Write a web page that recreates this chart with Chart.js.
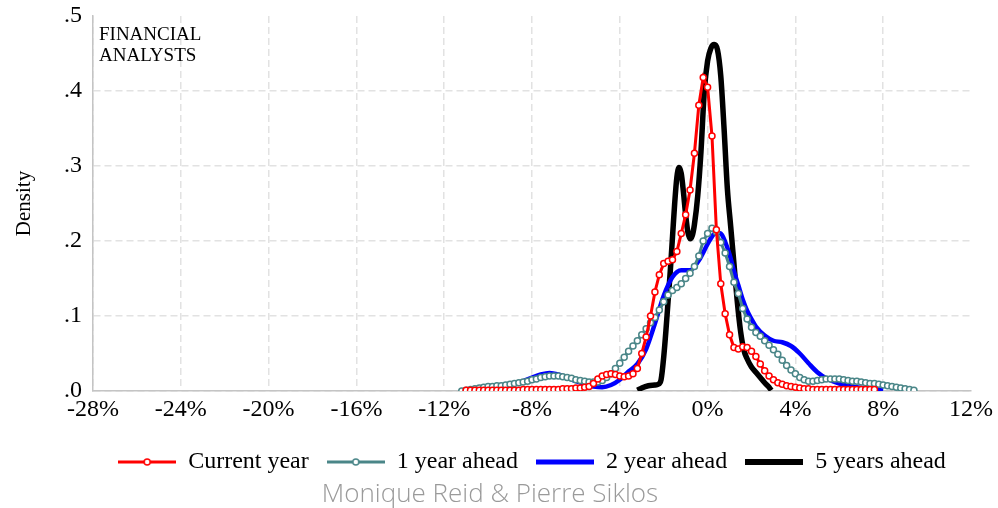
<!DOCTYPE html>
<html>
<head>
<meta charset="utf-8">
<script src="https://cdn.jsdelivr.net/npm/chart.js@4.4.1/dist/chart.umd.min.js"></script>
<style>
  body { margin: 0; background: #fff; }
  #wrap { position: relative; width: 998px; height: 508px; }
  #credit {
    position: absolute; left: 0; width: 980px; top: 474px; line-height: 30px;
    text-align: center; font: 300 26px "Open Sans", sans-serif; color: #9a9a9a;
  }
</style>
</head>
<body>
<div id="wrap">
  <canvas id="densityChart" width="998" height="508"></canvas>
  <div id="credit">Monique Reid &amp; Pierre Siklos</div>
</div>
<script>
// x in percent, y = density
const currentX = [
  -11, -10.8, -10.6, -10.4, -10.2, -10, -9.8, -9.6, -9.4, -9.2,
  -9, -8.8, -8.6, -8.4, -8.2, -8, -7.8, -7.6, -7.4, -7.2,
  -7, -6.8, -6.6, -6.4, -6.2, -6, -5.8, -5.6, -5.4, -5.2,
  -5, -4.8, -4.6, -4.4, -4.2, -4, -3.8, -3.6, -3.4, -3.2,
  -3, -2.8, -2.6, -2.4, -2.2, -2, -1.8, -1.6, -1.4, -1.2,
  -1, -0.8, -0.6, -0.4, -0.2, 0, 0.2, 0.4, 0.6, 0.8,
  1, 1.2, 1.4, 1.6, 1.8, 2, 2.2, 2.4, 2.6, 2.8,
  3, 3.2, 3.4, 3.6, 3.8, 4, 4.2, 4.4, 4.6, 4.8,
  5, 5.2, 5.4, 5.6, 5.8, 6, 6.2, 6.4, 6.6, 6.8,
  7, 7.2, 7.4, 7.6
];
const currentY = [
  .001, .001, .001, .001, .001, .001, .001, .001, .001, .001,
  .001, .001, .001, .002, .002, .002, .002, .002, .002, .002,
  .002, .002, .003, .003, .003, .004, .004, .005, .006, .010,
  .016, .020, .022, .023, .022, .020, .019, .020, .023, .030,
  .050, .072, .100, .132, .155, .170, .173, .175, .186, .210,
  .235, .268, .317, .381, .418, .405, .340, .215, .143, .103,
  .075, .058, .056, .059, .058, .053, .046, .036, .027, .020,
  .015, .011, .009, .007, .006, .005, .004, .003, .003, .002,
  .002, .002, .002, .002, .002, .002, .002, .002, .002, .002,
  .002, .002, .002, .002
];
const oneYearX = [
  -11.2, -11, -10.8, -10.6, -10.4, -10.2, -10, -9.8, -9.6, -9.4,
  -9.2, -9, -8.8, -8.6, -8.4, -8.2, -8, -7.8, -7.6, -7.4,
  -7.2, -7, -6.8, -6.6, -6.4, -6.2, -6, -5.8, -5.6, -5.4,
  -5.2, -5, -4.8, -4.6, -4.4, -4.2, -4, -3.8, -3.6, -3.4,
  -3.2, -3, -2.8, -2.6, -2.4, -2.2, -2, -1.8, -1.6, -1.4,
  -1.2, -1, -0.8, -0.6, -0.4, -0.2, 0, 0.2, 0.4, 0.6,
  0.8, 1, 1.2, 1.4, 1.6, 1.8, 2, 2.2, 2.4, 2.6,
  2.8, 3, 3.2, 3.4, 3.6, 3.8, 4, 4.2, 4.4, 4.6,
  4.8, 5, 5.2, 5.4, 5.6, 5.8, 6, 6.2, 6.4, 6.6,
  6.8, 7, 7.2, 7.4, 7.6, 7.8, 8, 8.2, 8.4, 8.6,
  8.8, 9, 9.2, 9.4
];
const oneYearY = [
  .000, .001, .002, .003, .004, .005, .006, .006, .007, .007,
  .008, .009, .010, .011, .012, .013, .015, .016, .018, .019,
  .020, .020, .020, .019, .018, .017, .015, .014, .013, .012,
  .012, .012, .014, .018, .023, .030, .037, .045, .053, .060,
  .067, .075, .083, .091, .098, .108, .119, .128, .134, .138,
  .143, .150, .157, .166, .180, .200, .210, .217, .212, .198,
  .184, .166, .145, .130, .110, .096, .085, .078, .073, .067,
  .061, .055, .049, .041, .034, .028, .023, .018, .015, .013,
  .013, .014, .015, .016, .016, .016, .016, .015, .014, .013,
  .013, .012, .011, .010, .010, .009, .008, .007, .006, .005,
  .004, .003, .002, .001
];
const twoYearX = [
  -11, -10, -9, -8.4, -8, -7.6, -7.2, -6.8, -6.4, -6,
  -5.6, -5.2, -4.8, -4.4, -4, -3.6, -3.2, -2.8, -2.4, -2,
  -1.6, -1.2, -0.8, -0.4, 0, 0.2, 0.4, 0.6, 0.8, 1,
  1.2, 1.4, 1.6, 1.8, 2, 2.2, 2.6, 3, 3.4, 3.8,
  4.2, 4.6, 5, 5.4, 6, 6.8, 7.6, 8
];
const twoYearY = [
  .001, .003, .007, .013, .018, .022, .024, .022, .018, .013,
  .009, .006, .005, .008, .015, .026, .036, .056, .090, .127,
  .152, .161, .161, .174, .196, .206, .211, .210, .199, .182,
  .160, .141, .122, .107, .096, .086, .074, .067, .065, .060,
  .050, .037, .025, .017, .010, .005, .002, .001
];
const fiveYearX = [
  -3.2, -3, -2.7, -2.4, -2.25, -2.12, -2, -1.9, -1.8, -1.7,
  -1.6, -1.5, -1.4, -1.3, -1.2, -1.1, -1, -0.9, -0.8, -0.7,
  -0.6, -0.45, -0.3, -0.15, 0, 0.15, 0.3, 0.45, 0.6, 0.75,
  0.9, 1.05, 1.2, 1.35, 1.5, 1.65, 1.8, 2, 2.2, 2.4,
  2.6, 2.8, 2.9
];
const fiveYearY = [
  .001, .004, .007, .008, .009, .015, .045, .080, .120, .160,
  .205, .250, .285, .298, .290, .265, .235, .212, .203, .207,
  .222, .260, .320, .400, .440, .457, .462, .455, .420, .350,
  .270, .220, .170, .120, .080, .055, .043, .032, .025, .018,
  .011, .005, .001
];
const xTicks = [-28, -24, -20, -16, -12, -8, -4, 0, 4, 8, 12];
const yTicks = [0, 0.1, 0.2, 0.3, 0.4, 0.5];
const seriesNames = ["Current year", "1 year ahead", "2 year ahead", "5 years ahead"];

const pts = (xs, ys) => xs.map((x, i) => ({ x: x, y: ys[i] }));
const serif = '"Liberation Serif", "Times New Roman", serif';

function legendIcon(color, width, marker) {
  const c = document.createElement("canvas");
  c.width = 58; c.height = 12;
  const g = c.getContext("2d");
  g.strokeStyle = color; g.lineWidth = width;
  g.beginPath(); g.moveTo(0, 6); g.lineTo(58, 6); g.stroke();
  if (marker) {
    g.beginPath(); g.arc(29, 6, 3, 0, 2 * Math.PI);
    g.fillStyle = "#fff"; g.fill();
    g.lineWidth = 1.5; g.stroke();
  }
  return c;
}
const icons = [
  legendIcon("#ff0000", 3, true),
  legendIcon("#4a8688", 3, true),
  legendIcon("#0000ff", 5, false),
  legendIcon("#000000", 6, false)
];

const panelLabel = {
  id: "panelLabel",
  afterDatasetsDraw(chart) {
    const ctx = chart.ctx;
    ctx.save();
    ctx.font = "19px " + serif;
    ctx.fillStyle = "#000";
    ctx.textBaseline = "alphabetic";
    ctx.fillText("FINANCIAL", 99, 40);
    ctx.fillText("ANALYSTS", 99, 61);
    ctx.restore();
  }
};

// centre the legend under the plot area, like the original
const legendShift = {
  id: "legendShift",
  afterLayout(chart) {
    const lg = chart.legend;
    const mid = (chart.chartArea.left + chart.chartArea.right) / 2;
    const d = mid - (lg.left + lg.right) / 2;
    lg.left += d; lg.right += d;
  }
};

const gridColor = (ctx, edge) =>
  ctx.tick && ctx.tick.value === edge ? "rgba(0,0,0,0)" : "#e2e2e2";

new Chart(document.getElementById("densityChart"), {
  type: "line",
  data: {
    datasets: [{
      label: seriesNames[0],
      data: pts(currentX, currentY),
      borderColor: "#ff0000",
      borderWidth: 3,
      pointRadius: 3,
      pointBorderWidth: 1.5,
      pointBackgroundColor: "#ffffff",
      pointBorderColor: "#ff0000",
      tension: 0
    }, {
      label: seriesNames[1],
      data: pts(oneYearX, oneYearY),
      borderColor: "#4a8688",
      borderWidth: 3,
      pointRadius: 3,
      pointBorderWidth: 1.5,
      pointBackgroundColor: "#ffffff",
      pointBorderColor: "#4a8688",
      tension: 0
    }, {
      label: seriesNames[2],
      data: pts(twoYearX, twoYearY),
      borderColor: "#0000ff",
      borderWidth: 4.5,
      pointRadius: 0,
      cubicInterpolationMode: "monotone"
    }, {
      label: seriesNames[3],
      data: pts(fiveYearX, fiveYearY),
      borderColor: "#000000",
      borderWidth: 5.5,
      pointRadius: 0,
      cubicInterpolationMode: "monotone"
    }]
  },
  options: {
    responsive: false,
    animation: false,
    events: [],
    layout: { padding: { top: 16, right: 27, left: 0, bottom: 24 } },
    scales: {
      x: {
        type: "linear",
        min: -28, max: 12,
        afterBuildTicks: s => { s.ticks = xTicks.map(v => ({ value: v })); },
        afterFit: s => { s.height = 41; s.paddingLeft = 0; s.paddingRight = 0; },
        ticks: {
          callback: v => v + "%",
          font: { family: serif, size: 24 },
          color: "#000",
          padding: 4,
          maxRotation: 0,
          autoSkip: false
        },
        grid: { color: c => gridColor(c, 12), lineWidth: 1.5, drawTicks: false },
        border: { color: "#c4c4c4", width: 1.5, dash: [7, 4] }
      },
      y: {
        min: 0, max: 0.5,
        afterBuildTicks: s => { s.ticks = yTicks.map(v => ({ value: v })); },
        afterFit: s => { s.width = 93; s.paddingTop = 0; s.paddingBottom = 0; },
        ticks: {
          callback: v => v.toFixed(1).replace(/^0/, ""),
          font: { family: serif, size: 24 },
          color: "#000",
          padding: 11
        },
        title: {
          display: true,
          text: "Density",
          font: { family: serif, size: 21 },
          color: "#000",
          padding: { top: 12, bottom: 0 }
        },
        grid: { color: c => gridColor(c, 0.5), lineWidth: 1.5, drawTicks: false },
        border: { color: "#c4c4c4", width: 1.5, dash: [7, 4] }
      }
    },
    plugins: {
      tooltip: { enabled: false },
      legend: {
        position: "bottom",
        labels: {
          usePointStyle: true,
          pointStyleWidth: 58,
          padding: 18,
          color: "#000",
          font: { family: serif, size: 24 },
          generateLabels: chart =>
            Chart.defaults.plugins.legend.labels.generateLabels(chart)
              .map((item, i) => Object.assign(item, { pointStyle: icons[i] }))
        }
      }
    }
  },
  plugins: [panelLabel, legendShift]
});
</script>
</body>
</html>
